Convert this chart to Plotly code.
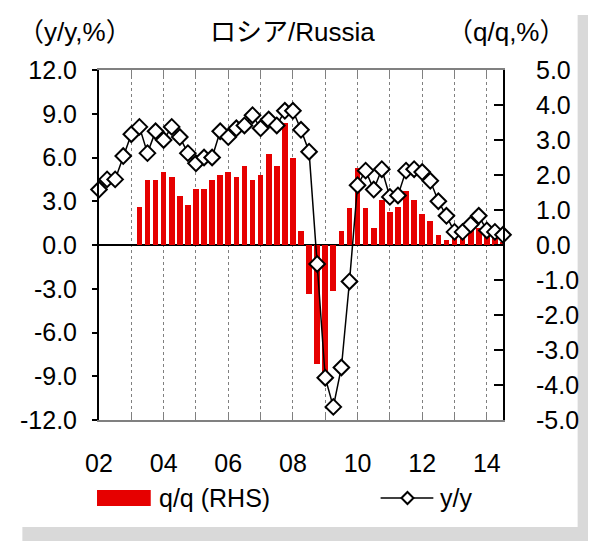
import plotly.graph_objects as go

# quarters 2002Q1 .. 2014Q3, index 0..50
quarters = list(range(51))

yy = [3.8, 4.5, 4.5, 6.1, 7.6, 8.1, 6.3, 7.8, 7.2, 8.1,
      7.4, 6.3, 5.6, 6.0, 6.0, 7.8, 7.4, 8.0, 8.2, 8.9,
      8.0, 8.6, 8.2, 9.2, 9.2, 7.9, 6.4, -1.3, -9.1, -11.1,
      -8.4, -2.5, 4.1, 5.1, 3.8, 5.2, 3.3, 3.4, 5.1, 5.2,
      5.0, 4.4, 3.0, 2.0, 0.9, 0.9, 1.4, 2.0, 1.0, 0.9,
      0.7]

qq = [None, None, None, None, None, 1.1, 1.85, 1.85, 2.1, 1.95,
      1.4, 1.15, 1.6, 1.6, 1.85, 2.0, 2.1, 1.95, 2.25, 1.85,
      2.0, 2.6, 2.25, 3.5, 2.5, 0.4, -1.4, -3.4, -3.7, -1.3,
      0.4, 1.05, 2.2, 1.05, 0.5, 1.3, 0.95, 1.1, 1.55, 1.3,
      0.9, 0.7, 0.3, 0.15, 0.3, 0.3, 0.45, 0.5, 0.4, 0.2,
      0.1]

year_ticks = list(range(0, 49, 4))
year_labels = ["02", "", "04", "", "06", "", "08", "", "10", "", "12", "", "14"]

left_vals = [12, 9, 6, 3, 0, -3, -6, -9, -12]
left_text = ["12.0", "9.0", "6.0", "3.0", "0.0", "-3.0", "-6.0", "-9.0", "-12.0"]
right_vals = [5, 4, 3, 2, 1, 0, -1, -2, -3, -4, -5]
right_text = ["5.0", "4.0", "3.0", "2.0", "1.0", "0.0", "-1.0", "-2.0", "-3.0", "-4.0", "-5.0"]

FONT = "Liberation Sans, Arial, Noto Sans CJK JP"
RED = "#e60000"

fig = go.Figure()

fig.add_trace(go.Bar(
    x=quarters, y=qq, yaxis="y", width=0.7,
    marker=dict(color=RED, line=dict(width=0)),
    name="q/q (RHS)",
))

fig.add_trace(go.Scatter(
    x=quarters, y=yy, yaxis="y2", mode="lines+markers",
    line=dict(color="black", width=1.5),
    marker=dict(symbol="diamond", size=12, color="white",
                line=dict(color="black", width=2)),
    cliponaxis=False,
    name="y/y",
))

# page has an 8px body margin, so the figure starts at (8, 8) on screen
# paper coordinate helpers (plot area 97..503 x 70..420 screen px)
def px(x):
    return (x - 97) / 406.0

def py(y):
    return (420 - y) / 350.0

shapes = [
    # drop shadow
    dict(type="rect", xref="paper", yref="paper", layer="below",
         x0=px(578), x1=px(600), y0=py(545), y1=py(15),
         fillcolor="#d9d9d9", line=dict(width=0)),
    dict(type="rect", xref="paper", yref="paper", layer="below",
         x0=px(20), x1=px(600), y0=py(545), y1=py(527),
         fillcolor="#d9d9d9", line=dict(width=0)),
    # legend
    dict(type="rect", xref="paper", yref="paper",
         x0=px(95), x1=px(149), y0=py(506), y1=py(490),
         fillcolor=RED, line=dict(width=0)),
    dict(type="line", xref="paper", yref="paper",
         x0=px(380), x1=px(433), y0=py(498), y1=py(498),
         line=dict(color="black", width=1.5)),
    dict(type="path", xref="paper", yref="paper",
         xsizemode="pixel", ysizemode="pixel",
         xanchor=px(407), yanchor=py(498),
         path="M -6 0 L 0 6 L 6 0 L 0 -6 Z",
         fillcolor="white", line=dict(color="black", width=2)),
]

annotations = [
    dict(text="ロシア/Russia", x=px(291), y=py(32), xref="paper", yref="paper",
         xanchor="center", yanchor="middle", showarrow=False,
         font=dict(size=26, family=FONT, color="black")),
    dict(text="（y/y,%）", x=px(73), y=py(32), xref="paper", yref="paper",
         xanchor="center", yanchor="middle", showarrow=False,
         font=dict(size=26, family=FONT, color="black")),
    dict(text="（q/q,%）", x=px(507), y=py(32), xref="paper", yref="paper",
         xanchor="center", yanchor="middle", showarrow=False,
         font=dict(size=26, family=FONT, color="black")),
    dict(text="q/q (RHS)", x=px(155), y=py(498), xref="paper", yref="paper",
         xanchor="left", yanchor="middle", showarrow=False,
         font=dict(size=25, family=FONT, color="black")),
    dict(text="y/y", x=px(438), y=py(498), xref="paper", yref="paper",
         xanchor="left", yanchor="middle", showarrow=False,
         font=dict(size=25, family=FONT, color="black")),
]

fig.update_layout(
    width=588, height=533,
    margin=dict(l=89, r=93, t=62, b=121),
    paper_bgcolor="white", plot_bgcolor="white",
    showlegend=False,
    font=dict(family=FONT, size=25, color="black"),
    bargap=0,
    xaxis=dict(
        range=[0, 50], tickvals=year_ticks, ticktext=year_labels,
        ticks="inside", ticklen=7, tickwidth=1, tickcolor="#808080",
        showline=True, linecolor="#808080", linewidth=2, mirror="ticks",
        showgrid=True, gridcolor="#808080", gridwidth=1, griddash="dot",
        zeroline=False, ticklabelstandoff=20,
        tickfont=dict(size=25),
    ),
    xaxis2=dict(
        overlaying="x", anchor="free", position=0.5, side="bottom",
        range=[0, 50], tickvals=list(range(8, 49, 8)),
        ticks="outside", ticklen=8, tickwidth=1.5, tickcolor="black",
        showticklabels=False, showline=False, showgrid=False, zeroline=False,
    ),
    yaxis=dict(
        side="right", range=[-5, 5], tickvals=right_vals, ticktext=right_text,
        ticks="inside", ticklen=9, tickwidth=1.5, tickcolor="black",
        showline=True, linecolor="black", linewidth=2,
        showgrid=False, zeroline=True, zerolinecolor="black", zerolinewidth=2,
        ticklabelstandoff=26, tickfont=dict(size=25),
    ),
    yaxis2=dict(
        overlaying="y", side="left", range=[-12, 12],
        tickvals=left_vals, ticktext=left_text,
        ticks="outside", ticklen=5, tickwidth=1.5, tickcolor="black",
        showline=True, linecolor="black", linewidth=2,
        showgrid=False, zeroline=False,
        ticklabelstandoff=10, tickfont=dict(size=25),
    ),
    shapes=shapes,
    annotations=annotations,
)

fig.write_html("out.html")
